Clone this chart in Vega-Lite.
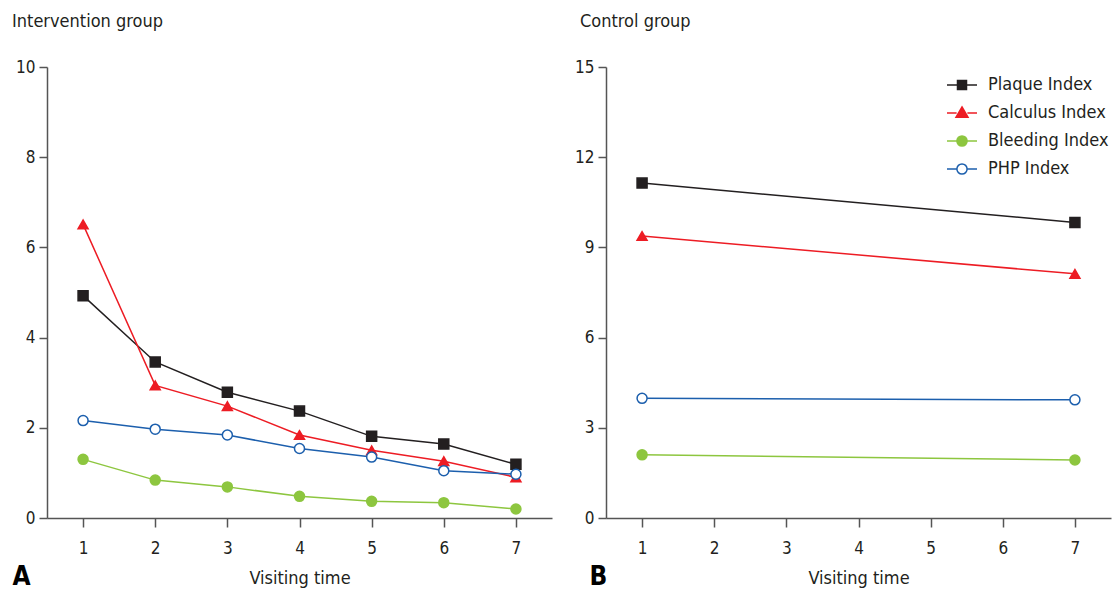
{
  "$schema": "https://vega.github.io/schema/vega-lite/v6.json",
  "background": "white",
  "padding": {"left": 12, "top": 13, "right": 2, "bottom": 0},
  "config": {
    "font": "Liberation Sans Narrow, DejaVu Sans Condensed, Roboto, sans-serif",
    "view": {"stroke": null},
    "concat": {"spacing": 22},
    "title": {"fontSize": 18, "fontWeight": "normal", "anchor": "start", "frame": "group", "color": "#231f20", "offset": 27},
    "axis": {"domainColor": "#555555", "tickColor": "#555555", "domainWidth": 1.5, "tickWidth": 1.5, "labelFontSize": 17, "labelColor": "#231f20", "grid": false, "titleFontSize": 18, "titleFontWeight": "normal", "titleColor": "#231f20"},
    "axisX": {"tickSize": 9, "labelPadding": 13, "titlePadding": 13, "labelFlush": false},
    "axisY": {"tickSize": 8, "labelPadding": 4},
    "legend": {"title": null, "orient": "top-right", "offset": 0, "padding": 2, "symbolSize": 900, "symbolStrokeWidth": 1.5, "labelFontSize": 18, "labelColor": "#231f20", "labelOffset": 10, "rowPadding": 3}
  },
  "datasets": {
    "intervention": [
      {"visit": 1, "series": "Plaque Index", "value": 4.93},
      {"visit": 2, "series": "Plaque Index", "value": 3.46},
      {"visit": 3, "series": "Plaque Index", "value": 2.79},
      {"visit": 4, "series": "Plaque Index", "value": 2.37},
      {"visit": 5, "series": "Plaque Index", "value": 1.81},
      {"visit": 6, "series": "Plaque Index", "value": 1.64},
      {"visit": 7, "series": "Plaque Index", "value": 1.19},
      {"visit": 1, "series": "Calculus Index", "value": 6.51},
      {"visit": 2, "series": "Calculus Index", "value": 2.94},
      {"visit": 3, "series": "Calculus Index", "value": 2.48},
      {"visit": 4, "series": "Calculus Index", "value": 1.84},
      {"visit": 5, "series": "Calculus Index", "value": 1.5},
      {"visit": 6, "series": "Calculus Index", "value": 1.26},
      {"visit": 7, "series": "Calculus Index", "value": 0.9},
      {"visit": 1, "series": "Bleeding Index", "value": 1.3},
      {"visit": 2, "series": "Bleeding Index", "value": 0.84},
      {"visit": 3, "series": "Bleeding Index", "value": 0.69},
      {"visit": 4, "series": "Bleeding Index", "value": 0.48},
      {"visit": 5, "series": "Bleeding Index", "value": 0.37},
      {"visit": 6, "series": "Bleeding Index", "value": 0.34},
      {"visit": 7, "series": "Bleeding Index", "value": 0.2},
      {"visit": 1, "series": "PHP Index", "value": 2.16},
      {"visit": 2, "series": "PHP Index", "value": 1.97},
      {"visit": 3, "series": "PHP Index", "value": 1.84},
      {"visit": 4, "series": "PHP Index", "value": 1.54},
      {"visit": 5, "series": "PHP Index", "value": 1.35},
      {"visit": 6, "series": "PHP Index", "value": 1.05},
      {"visit": 7, "series": "PHP Index", "value": 0.97}
    ],
    "control": [
      {"visit": 1, "series": "Plaque Index", "value": 11.14},
      {"visit": 7, "series": "Plaque Index", "value": 9.83},
      {"visit": 1, "series": "Calculus Index", "value": 9.38},
      {"visit": 7, "series": "Calculus Index", "value": 8.12},
      {"visit": 1, "series": "Bleeding Index", "value": 2.1},
      {"visit": 7, "series": "Bleeding Index", "value": 1.93},
      {"visit": 1, "series": "PHP Index", "value": 3.98},
      {"visit": 7, "series": "PHP Index", "value": 3.93}
    ]
  },
  "resolve": {"scale": {"stroke": "independent", "fill": "independent", "shape": "independent"}, "legend": {"stroke": "independent", "fill": "independent", "shape": "independent"}},
  "hconcat": [
    {
      "width": 505,
      "height": 451,
      "title": {"text": "Intervention group", "dx": -35},
      "data": {"name": "intervention"},
      "encoding": {
        "x": {"field": "visit", "type": "quantitative", "scale": {"domain": [0.5, 7.5], "nice": false, "zero": false}, "axis": {"values": [1, 2, 3, 4, 5, 6, 7], "format": "d", "title": "Visiting time"}},
        "y": {"field": "value", "type": "quantitative", "scale": {"domain": [0, 10], "nice": false}, "axis": {"values": [0, 2, 4, 6, 8, 10], "title": "A", "titleAngle": 0, "titleAlign": "left", "titleBaseline": "alphabetic", "titleX": -35, "titleY": 517, "titleFontSize": 26, "titleFontWeight": "bold", "titleColor": "#000000"}}
      },
      "layer": [
        {
          "mark": {"type": "line", "strokeWidth": 1.5},
          "encoding": {
            "stroke": {"field": "series", "type": "nominal", "scale": {"domain": ["Plaque Index", "Calculus Index", "Bleeding Index", "PHP Index"], "range": ["#231f20", "#ed1c24", "#8dc63f", "#1c5fad"]}, "legend": null}
          }
        },
        {
          "mark": {"type": "point", "strokeWidth": 1.5, "opacity": 1, "fillOpacity": 1},
          "encoding": {
            "stroke": {"field": "series", "type": "nominal", "scale": {"domain": ["Plaque Index", "Calculus Index", "Bleeding Index", "PHP Index"], "range": ["#231f20", "#ed1c24", "#8dc63f", "#1c5fad"]}, "legend": null},
            "fill": {"field": "series", "type": "nominal", "scale": {"domain": ["Plaque Index", "Calculus Index", "Bleeding Index", "PHP Index"], "range": ["#231f20", "#ed1c24", "#8dc63f", "#ffffff"]}, "legend": null},
            "shape": {"field": "series", "type": "nominal", "scale": {"domain": ["Plaque Index", "Calculus Index", "Bleeding Index", "PHP Index"], "range": ["square", "triangle-up", "circle", "circle"]}, "legend": null},
            "size": {"value": 100}
          }
        }
      ]
    },
    {
      "width": 505,
      "height": 451,
      "title": {"text": "Control group", "dx": -26},
      "data": {"name": "control"},
      "encoding": {
        "x": {"field": "visit", "type": "quantitative", "scale": {"domain": [0.5, 7.5], "nice": false, "zero": false}, "axis": {"values": [1, 2, 3, 4, 5, 6, 7], "format": "d", "title": "Visiting time"}},
        "y": {"field": "value", "type": "quantitative", "scale": {"domain": [0, 15], "nice": false}, "axis": {"values": [0, 3, 6, 9, 12, 15], "title": "B", "titleAngle": 0, "titleAlign": "left", "titleBaseline": "alphabetic", "titleX": -17, "titleY": 517, "titleFontSize": 26, "titleFontWeight": "bold", "titleColor": "#000000"}}
      },
      "resolve": {"scale": {"stroke": "independent", "fill": "independent", "shape": "independent"}, "legend": {"stroke": "independent", "fill": "independent", "shape": "independent"}},
      "layer": [
        {
          "mark": {"type": "line", "strokeWidth": 1.5},
          "encoding": {
            "stroke": {"field": "series", "type": "nominal", "scale": {"domain": ["Plaque Index", "Calculus Index", "Bleeding Index", "PHP Index"], "range": ["#231f20", "#ed1c24", "#8dc63f", "#1c5fad"]}, "legend": null}
          }
        },
        {
          "mark": {"type": "point", "strokeWidth": 1.5, "opacity": 1, "fillOpacity": 1},
          "encoding": {
            "stroke": {"field": "series", "type": "nominal", "scale": {"domain": ["Plaque Index", "Calculus Index", "Bleeding Index", "PHP Index"], "range": ["#231f20", "#ed1c24", "#8dc63f", "#1c5fad"]}, "legend": null},
            "fill": {"field": "series", "type": "nominal", "scale": {"domain": ["Plaque Index", "Calculus Index", "Bleeding Index", "PHP Index"], "range": ["#231f20", "#ed1c24", "#8dc63f", "#ffffff"]}, "legend": null},
            "shape": {"field": "series", "type": "nominal", "scale": {"domain": ["Plaque Index", "Calculus Index", "Bleeding Index", "PHP Index"], "range": ["square", "triangle-up", "circle", "circle"]}, "legend": null},
            "size": {"value": 100}
          }
        },
        {
          "transform": [{"filter": "false"}],
          "mark": {"type": "point", "strokeWidth": 1.5, "opacity": 1, "fillOpacity": 1},
          "encoding": {
            "stroke": {"field": "series", "type": "nominal", "scale": {"domain": ["Plaque Index", "Calculus Index", "Bleeding Index", "PHP Index"], "range": ["#231f20", "#ed1c24", "#8dc63f", "#1c5fad"]}},
            "fill": {"field": "series", "type": "nominal", "scale": {"domain": ["Plaque Index", "Calculus Index", "Bleeding Index", "PHP Index"], "range": ["#231f20", "#ed1c24", "#8dc63f", "#ffffff"]}},
            "shape": {"field": "series", "type": "nominal", "scale": {"domain": ["Plaque Index", "Calculus Index", "Bleeding Index", "PHP Index"], "range": ["M-1,0H-0.3M0.3,0H1M-0.3,-0.3H0.3V0.3H-0.3Z", "M-1,0H-0.36M0.36,0H1M0,-0.4L0.4,0.28H-0.4Z", "M-1,0H-0.34M0.34,0H1M-0.34,0A0.34,0.34,0,1,0,0.34,0A0.34,0.34,0,1,0,-0.34,0Z", "M-1,0H-0.34M0.34,0H1M-0.34,0A0.34,0.34,0,1,0,0.34,0A0.34,0.34,0,1,0,-0.34,0Z"]}}
          }
        }
      ]
    }
  ]
}
